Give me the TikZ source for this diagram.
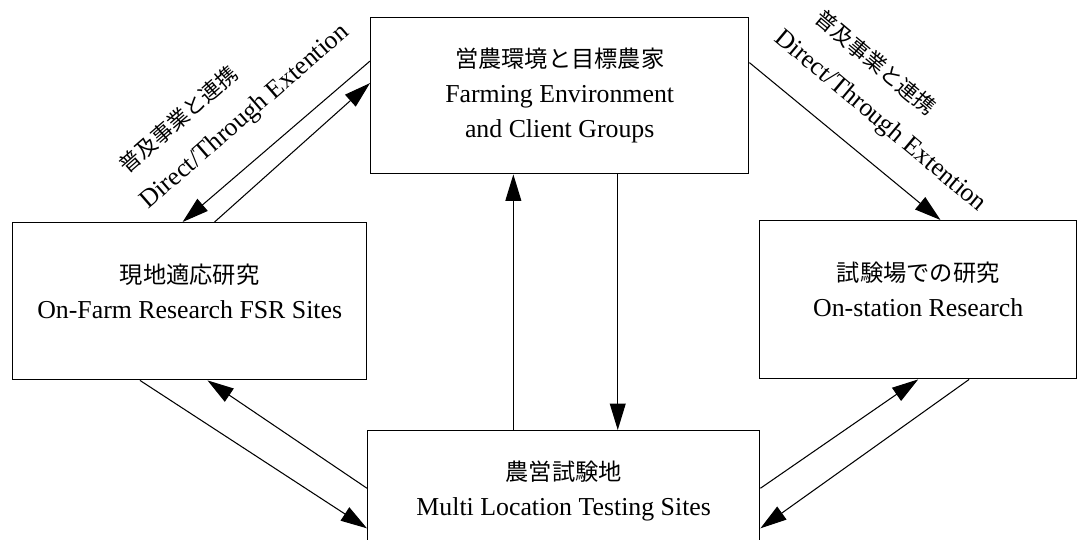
\documentclass[tikz,border=0pt]{standalone}
\usepackage{fontspec}
\setmainfont{Liberation Serif}
\newfontfamily\cjk{Noto Sans CJK JP}[Scale=0.9]
\usetikzlibrary{arrows.meta,calc,positioning}
\newcommand\pxu{0.02cm}

\begin{document}
\begin{tikzpicture}[
  x=0.02cm, y=-0.02cm,
  unit/.style={draw,line width=0.8pt,inner sep=0pt,anchor=north west,align=center,
    font=\fontsize{14.7}{19.8}\selectfont},
  note/.style={inner sep=0pt,align=left,font=\fontsize{14.7}{18}\selectfont},
  link/.style={line width=0.6pt,-{Triangle[length=15pt,width=9pt]}}
]
  \useasboundingbox (0,0) rectangle (1085,540);
  \clip (0,0) rectangle (1085,540);

  \node[unit,minimum width=378*\pxu,minimum height=156*\pxu] (env) at (370,17)
    {{\cjk 営農環境と目標農家}\\Farming Environment\\and Client Groups};
  \node[unit,minimum width=354*\pxu,minimum height=157*\pxu] (onfarm) at (12,222)
    {{\cjk 現地適応研究}\\On-Farm Research FSR Sites\\[-8pt]\mbox{}};
  \node[unit,minimum width=317*\pxu,minimum height=158*\pxu] (onstation) at (759,220)
    {{\cjk 試験場での研究}\\On-station Research\\[-8pt]\mbox{}};
  \node[unit,minimum width=392*\pxu,minimum height=120*\pxu] (multi) at (367,430)
    {{\cjk 農営試験地}\\Multi Location Testing Sites};

  \node[note,rotate=41] (extL) at (232,102)
    {\hspace{4pt}{\cjk\fontsize{13.5}{15}\selectfont 普及事業と連携}\\[5pt]Direct/Through Extention};
  \node[note,rotate=-40] (extR) at (893,106)
    {\hspace{10pt}{\cjk\fontsize{13.5}{15}\selectfont 普及事業と連携}\\[5pt]Direct/Through Extention};

  \draw[link] ($(env.north west)!0.28!(env.south west)$) -- ($(onfarm.north west)!0.48!(onfarm.north east)$);
  \draw[link] ($(onfarm.north west)!0.57!(onfarm.north east)$) -- ($(env.north west)!0.42!(env.south west)$);
  \draw[link] ($(env.north east)!0.29!(env.south east)$) -- ($(onstation.north west)!0.57!(onstation.north east)$);

  \draw[link] ($(onfarm.south west)!0.36!(onfarm.south east)$) -- ($(multi.north west)!0.81!(multi.south west)$);
  \draw[link] ($(multi.north west)!0.48!(multi.south west)$) -- ($(onfarm.south west)!0.55!(onfarm.south east)$);
  \draw[link] ($(multi.north east)!0.48!(multi.south east)$) -- ($(onstation.south west)!0.50!(onstation.south east)$);
  \draw[link] ($(onstation.south west)!0.66!(onstation.south east)$) -- ($(multi.north east)!0.81!(multi.south east)$);

  \draw[link] ($(multi.north west)!0.372!(multi.north east)$) coordinate (up) -- (up |- env.south);
  \draw[link] ($(env.south west)!0.653!(env.south east)$) coordinate (dn) -- (dn |- multi.north);
\end{tikzpicture}
\end{document}
